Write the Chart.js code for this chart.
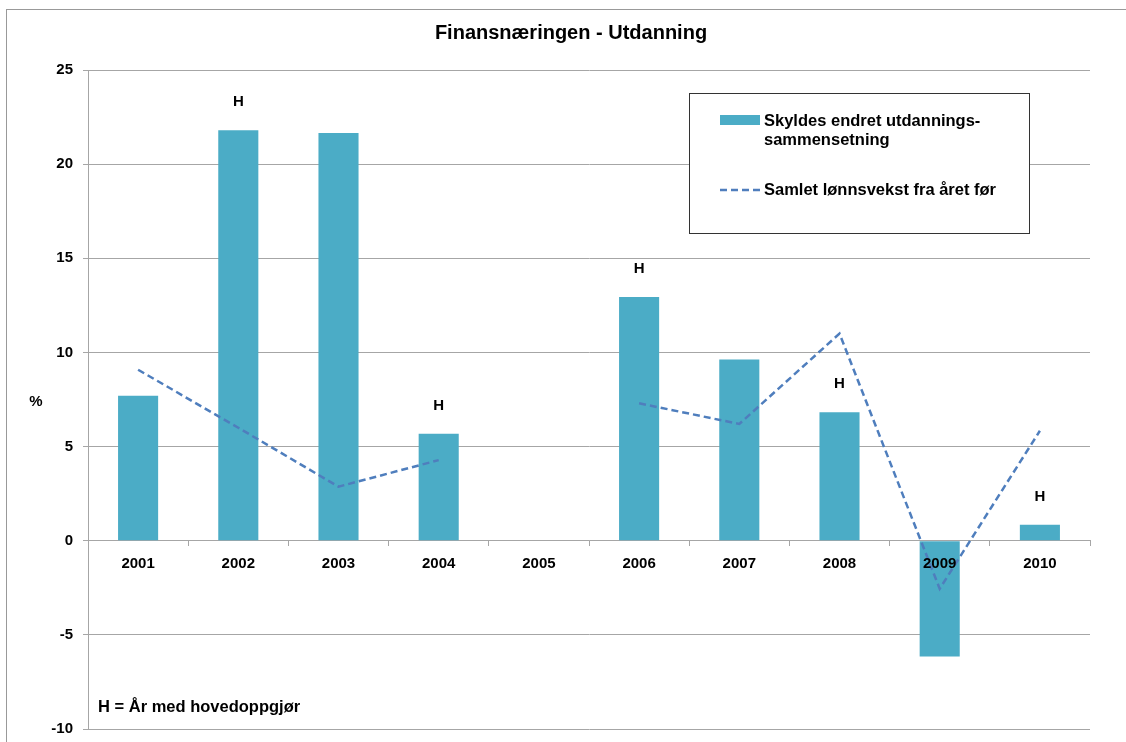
<!DOCTYPE html>
<html>
<head>
<meta charset="utf-8">
<script src="https://cdn.jsdelivr.net/npm/chart.js@4.4.1/dist/chart.umd.min.js"></script>
<style>
  html, body { margin: 0; padding: 0; background: #fff; overflow: hidden; }
  #frame { position: absolute; left: 6px; top: 9px; width: 1200px; height: 800px;
           border-left: 1px solid #999; border-top: 1px solid #999; }
  #wrap { position: absolute; left: 0; top: 0; width: 1126px; height: 748px; }
</style>
</head>
<body>
<div id="frame"></div>
<div id="wrap"><canvas id="chart"></canvas></div>
<script>
const years = ['2001', '2002', '2003', '2004', '2005', '2006', '2007', '2008', '2009', '2010'];
const utdanning = [7.7, 21.8, 21.65, 5.68, null, 12.95, 9.62, 6.82, -6.15, 0.85];
const lonnsvekst = [9.08, 6.0, 2.87, 4.28, null, 7.3, 6.2, 11.0, -2.55, 5.84];
const hovedoppgjor = [false, true, false, true, false, true, false, true, false, true];
const yTicks = [-10, -5, 0, 5, 10, 15, 20, 25];

const barColor = '#4bacc6';
const lineColor = '#4f7ebd';
const family = '"Liberation Sans", Arial, sans-serif';
const font = 'bold 16.5px ' + family;

// title, unit, H markers, note and the boxed legend
const extras = {
  id: 'extras',
  afterDraw(chart) {
    const ctx = chart.ctx;
    const area = chart.chartArea;
    const x = chart.scales.x, y = chart.scales.y;
    ctx.save();
    ctx.fillStyle = '#000';
    ctx.textBaseline = 'middle';

    ctx.font = 'bold 20px ' + family;
    ctx.textAlign = 'center';
    ctx.fillText('Finansnæringen - Utdanning', 571, 33);

    ctx.font = 'bold 15px ' + family;
    ctx.fillText('%', 36, 402);

    hovedoppgjor.forEach((h, i) => {
      if (!h) return;
      const v = utdanning[i];
      ctx.fillText('H', x.getPixelForValue(i), y.getPixelForValue(Math.max(v, 0)) - 28);
    });

    ctx.font = font;
    ctx.textAlign = 'left';
    ctx.fillText('H = År med hovedoppgjør', area.left + 10, 707);

    // legend box
    ctx.fillStyle = '#fff';
    ctx.fillRect(689, 93, 341, 141);
    ctx.strokeStyle = '#333';
    ctx.lineWidth = 1;
    ctx.strokeRect(689.5, 93.5, 340, 140);

    ctx.fillStyle = barColor;
    ctx.fillRect(720, 115, 40, 10);
    ctx.fillStyle = '#000';
    ctx.fillText('Skyldes endret utdannings-', 764, 121);
    ctx.fillText('sammensetning', 764, 140);

    ctx.strokeStyle = lineColor;
    ctx.lineWidth = 2.5;
    ctx.setLineDash([7, 4]);
    ctx.beginPath();
    ctx.moveTo(720, 190);
    ctx.lineTo(760, 190);
    ctx.stroke();
    ctx.setLineDash([]);
    ctx.fillText('Samlet lønnsvekst fra året før', 764, 190);
    ctx.restore();
  }
};

new Chart(document.getElementById('chart'), {
  type: 'bar',
  data: {
    labels: years,
    datasets: [
      {
        type: 'line',
        label: 'Samlet lønnsvekst fra året før',
        data: lonnsvekst,
        borderColor: lineColor,
        borderWidth: 2.5,
        borderDash: [7, 4],
        pointRadius: 0,
        spanGaps: false,
        tension: 0,
        order: 0
      },
      {
        label: 'Skyldes endret utdanningssammensetning',
        data: utdanning,
        backgroundColor: barColor,
        barPercentage: 0.8,
        categoryPercentage: 0.5,
        order: 1
      }
    ]
  },
  options: {
    responsive: true,
    maintainAspectRatio: false,
    animation: false,
    layout: { padding: { left: 0, top: 70, right: 36, bottom: 7 } },
    plugins: {
      legend: { display: false },
      tooltip: { enabled: false }
    },
    scales: {
      x: {
        position: { y: 0 },
        grid: { drawOnChartArea: false, drawTicks: true, tickLength: 5, color: '#a6a6a6' },
        border: { color: '#a6a6a6' },
        ticks: { z: 1, color: '#000', font: { family: family, size: 15, weight: 'bold' }, padding: 9 }
      },
      y: {
        min: -10,
        max: 25,
        afterBuildTicks(scale) { scale.ticks = yTicks.map(v => ({ value: v })); },
        afterFit(scale) { scale.width = 88; },
        grid: { color: '#a6a6a6', tickLength: 5 },
        border: { color: '#a6a6a6' },
        ticks: { color: '#000', font: { family: family, size: 15, weight: 'bold' }, padding: 10 }
      }
    }
  },
  plugins: [extras]
});
</script>
</body>
</html>
